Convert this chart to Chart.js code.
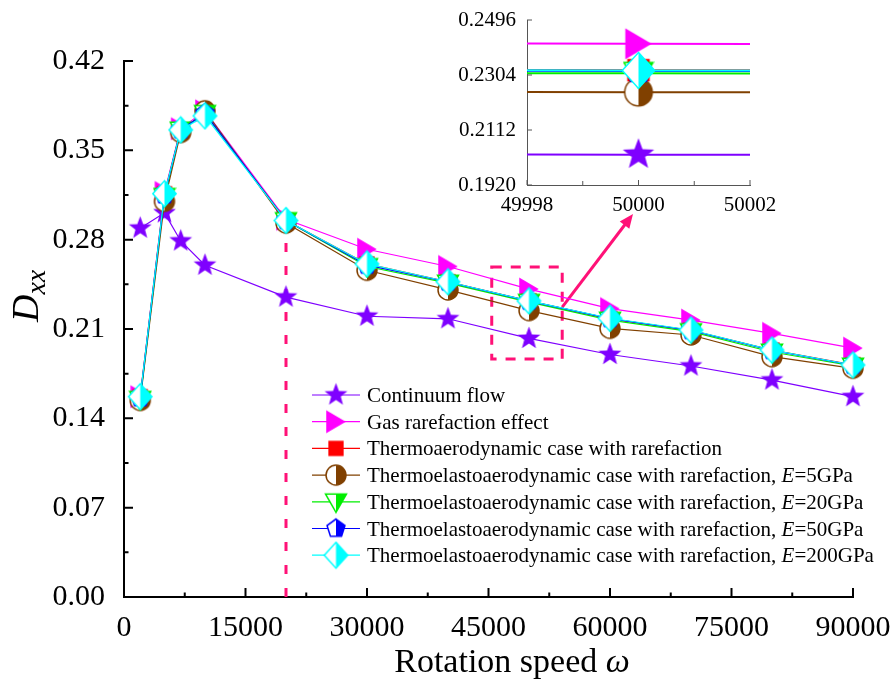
<!DOCTYPE html>
<html>
<head>
<meta charset="utf-8">
<script src="https://cdn.jsdelivr.net/npm/chart.js@4.4.1/dist/chart.umd.min.js"></script>
<style>
  body { margin: 0; background: #fff; }
  #wrap { position: relative; width: 890px; height: 682px; }
  #main { position: absolute; left: 0; top: 0; }
  #inset { position: absolute; left: 400px; top: 0; }
</style>
</head>
<body>
<div id="wrap">
  <canvas id="main" width="890" height="682"></canvas>
  <canvas id="inset" width="380" height="215"></canvas>
</div>
<script>
// rotation speeds (x) and Dxx for each case
var speed = [2000, 5000, 7000, 10000, 20000, 30000, 40000, 50000, 60000, 70000, 80000, 90000];
var continuum = [0.289, 0.301, 0.279, 0.260, 0.235, 0.220, 0.218, 0.2026, 0.190, 0.181, 0.170, 0.157];
var gasRare   = [0.157, 0.317, 0.367, 0.381, 0.296, 0.2725, 0.259, 0.2413, 0.226, 0.217, 0.2066, 0.195];
var thermo    = [0.157, 0.316, 0.366, 0.379, 0.295, 0.261, 0.247, 0.2321, 0.218, 0.209, 0.1935, 0.182];
var e5        = [0.154, 0.310, 0.364, 0.381, 0.293, 0.256, 0.2406, 0.2244, 0.2105, 0.2053, 0.1883, 0.1792];
var e20       = [0.155, 0.314, 0.366, 0.379, 0.295, 0.259, 0.246, 0.2310, 0.217, 0.208, 0.192, 0.181];
var e50       = [0.156, 0.315, 0.366, 0.379, 0.295, 0.260, 0.2468, 0.2318, 0.2182, 0.2088, 0.1932, 0.1816];
var e200      = [0.157, 0.316, 0.366, 0.377, 0.295, 0.261, 0.247, 0.2320, 0.2184, 0.2092, 0.1935, 0.1818];

var yTicks = [0, 0.07, 0.14, 0.21, 0.28, 0.35, 0.42];
var xTicks = [0, 15000, 30000, 45000, 60000, 75000, 90000];
var zoomX = [49998, 50000, 50002];
var zoomY = [0.1920, 0.2112, 0.2304, 0.2496];

var SERIF = "'Liberation Serif', 'Times New Roman', serif";
var PINK = '#ff1177';

var series = [
  { label: [{ t: 'Continuum flow' }], data: continuum, color: '#7f00ff', shape: 'star', half: false, size: 27, big: 36 },
  { label: [{ t: 'Gas rarefaction effect' }], data: gasRare, color: '#ff00ff', shape: 'triRight', half: false, size: 26, big: 34 },
  { label: [{ t: 'Thermoaerodynamic case with rarefaction' }], data: thermo, color: '#ff0000', shape: 'square', half: false, size: 20, big: 28 },
  { label: [{ t: 'Thermoelastoaerodynamic case with rarefaction, ' }, { t: 'E', it: true }, { t: '=5GPa' }], data: e5, color: '#804000', shape: 'circle', half: true, size: 24, big: 32 },
  { label: [{ t: 'Thermoelastoaerodynamic case with rarefaction, ' }, { t: 'E', it: true }, { t: '=20GPa' }], data: e20, color: '#00ee00', shape: 'triDown', half: true, size: 24, big: 32 },
  { label: [{ t: 'Thermoelastoaerodynamic case with rarefaction, ' }, { t: 'E', it: true }, { t: '=50GPa' }], data: e50, color: '#0000ff', shape: 'pentagon', half: true, size: 24, big: 32 },
  { label: [{ t: 'Thermoelastoaerodynamic case with rarefaction, ' }, { t: 'E', it: true }, { t: '=200GPa' }], data: e200, color: '#00ffff', shape: 'diamond', half: true, size: 29, big: 39 }
];

function shapePath(g, kind, m, R) {
  var i, a, r;
  g.beginPath();
  if (kind === 'star') {
    for (i = 0; i < 10; i++) {
      r = i % 2 ? R * 0.42 : R;
      a = -Math.PI / 2 + i * Math.PI / 5;
      g.lineTo(m + r * Math.cos(a), m + r * Math.sin(a));
    }
  } else if (kind === 'triRight') {
    g.moveTo(m + R * 0.85, m);
    g.lineTo(m - R * 0.85, m - R);
    g.lineTo(m - R * 0.85, m + R);
  } else if (kind === 'square') {
    g.rect(m - R * 0.9, m - R * 0.9, R * 1.8, R * 1.8);
  } else if (kind === 'circle') {
    g.arc(m, m, R * 0.95, 0, Math.PI * 2);
  } else if (kind === 'triDown') {
    g.moveTo(m - R, m - R * 0.75);
    g.lineTo(m + R, m - R * 0.75);
    g.lineTo(m, m + R);
  } else if (kind === 'pentagon') {
    for (i = 0; i < 5; i++) {
      a = -Math.PI / 2 + i * 2 * Math.PI / 5;
      g.lineTo(m + R * 0.9 * Math.cos(a), m + R * 0.9 * Math.sin(a));
    }
  } else if (kind === 'diamond') {
    g.moveTo(m, m - R);
    g.lineTo(m + R * 0.9, m);
    g.lineTo(m, m + R);
    g.lineTo(m - R * 0.9, m);
  }
  g.closePath();
}

// marker image: solid, or left half white / right half coloured
function makeMarker(s, size) {
  var c = document.createElement('canvas');
  c.width = size;
  c.height = size;
  var g = c.getContext('2d');
  var m = size / 2, R = size / 2 - 1.5;
  if (s.half) {
    shapePath(g, s.shape, m, R);
    g.fillStyle = '#fff';
    g.fill();
    g.save();
    g.beginPath();
    g.rect(m, 0, m, size);
    g.clip();
    shapePath(g, s.shape, m, R);
    g.fillStyle = s.color;
    g.fill();
    g.restore();
    shapePath(g, s.shape, m, R);
    g.lineWidth = 1.5;
    g.strokeStyle = s.color;
    g.stroke();
  } else {
    shapePath(g, s.shape, m, R);
    g.fillStyle = s.color;
    g.fill();
  }
  return c;
}

series.forEach(function (s) {
  s.marker = makeMarker(s, s.size);
  s.bigMarker = makeMarker(s, s.big);
});

function points(values) {
  return speed.map(function (x, i) { return { x: x, y: values[i] }; });
}

function fontOf(p, size) {
  return (p.it ? 'italic ' : '') + (p.size || size) + 'px ' + SERIF;
}

function drawRich(ctx, parts, x, y, size, align) {
  var w = 0;
  parts.forEach(function (p) { ctx.font = fontOf(p, size); w += ctx.measureText(p.t).width; });
  var cx = align === 'center' ? x - w / 2 : x;
  ctx.textAlign = 'left';
  ctx.textBaseline = 'alphabetic';
  parts.forEach(function (p) {
    ctx.font = fontOf(p, size);
    ctx.fillText(p.t, cx, y + (p.dy || 0));
    cx += ctx.measureText(p.t).width;
  });
}

// short tick marks pointing into the plot
var innerTicks = {
  id: 'innerTicks',
  afterDraw: function (chart, args, o) {
    var ctx = chart.ctx, a = chart.chartArea;
    var xs = chart.scales.x, ys = chart.scales.y;
    var i, p;
    ctx.save();
    ctx.strokeStyle = o.color;
    ctx.lineWidth = o.width;
    ctx.beginPath();
    var xv = xs.ticks.map(function (t) { return t.value; });
    var yv = ys.ticks.map(function (t) { return t.value; });
    for (i = 0; i < xv.length; i++) {
      p = xs.getPixelForValue(xv[i]);
      ctx.moveTo(p, a.bottom); ctx.lineTo(p, a.bottom - o.major);
      if (i < xv.length - 1) {
        p = xs.getPixelForValue((xv[i] + xv[i + 1]) / 2);
        ctx.moveTo(p, a.bottom); ctx.lineTo(p, a.bottom - o.minor);
      }
    }
    for (i = 0; i < yv.length; i++) {
      p = ys.getPixelForValue(yv[i]);
      ctx.moveTo(a.left, p); ctx.lineTo(a.left + o.major, p);
      if (o.yMinor && i < yv.length - 1) {
        p = ys.getPixelForValue((yv[i] + yv[i + 1]) / 2);
        ctx.moveTo(a.left, p); ctx.lineTo(a.left + o.minor, p);
      }
    }
    ctx.stroke();
    ctx.restore();
  }
};

// dashed guide at 20000, dashed box round 50000 and arrow to the zoom panel
var guides = {
  id: 'guides',
  beforeDatasetsDraw: function (chart) {
    var ctx = chart.ctx, xs = chart.scales.x, ys = chart.scales.y;
    ctx.save();
    ctx.strokeStyle = PINK;
    ctx.lineWidth = 3;
    ctx.setLineDash([9, 14]);
    ctx.beginPath();
    ctx.moveTo(xs.getPixelForValue(20000), ys.getPixelForValue(0));
    ctx.lineTo(xs.getPixelForValue(20000), ys.getPixelForValue(0.29));
    ctx.stroke();

    ctx.setLineDash([10, 9]);
    var x0 = xs.getPixelForValue(45400), x1 = xs.getPixelForValue(54100);
    var y0 = ys.getPixelForValue(0.2585), y1 = ys.getPixelForValue(0.1865);
    ctx.strokeRect(x0, y0, x1 - x0, y1 - y0);

    ctx.setLineDash([]);
    var ax = x1, ay = ys.getPixelForValue(0.2272);
    var bx = xs.getPixelForValue(62840), by = ys.getPixelForValue(0.3001);
    var ang = Math.atan2(by - ay, bx - ax);
    ctx.beginPath();
    ctx.moveTo(ax, ay);
    ctx.lineTo(bx - 10 * Math.cos(ang), by - 10 * Math.sin(ang));
    ctx.stroke();
    ctx.fillStyle = PINK;
    ctx.beginPath();
    ctx.moveTo(bx, by);
    ctx.lineTo(bx - 14 * Math.cos(ang) + 6 * Math.sin(ang), by - 14 * Math.sin(ang) - 6 * Math.cos(ang));
    ctx.lineTo(bx - 14 * Math.cos(ang) - 6 * Math.sin(ang), by - 14 * Math.sin(ang) + 6 * Math.cos(ang));
    ctx.closePath();
    ctx.fill();
    ctx.restore();
  }
};

var legendBox = {
  id: 'legendBox',
  afterDraw: function (chart) {
    var ctx = chart.ctx;
    ctx.save();
    series.forEach(function (s, i) {
      var y = 395 + i * 26.7;
      ctx.strokeStyle = s.color;
      ctx.lineWidth = 1.2;
      ctx.beginPath();
      ctx.moveTo(312, y);
      ctx.lineTo(360, y);
      ctx.stroke();
      ctx.drawImage(s.marker, 336 - s.marker.width / 2, y - s.marker.height / 2);
      ctx.fillStyle = '#000';
      drawRich(ctx, s.label, 367, y + 7, 21, 'left');
    });
    ctx.restore();
  }
};

var axisTitles = {
  id: 'axisTitles',
  afterDraw: function (chart) {
    var ctx = chart.ctx;
    ctx.save();
    ctx.fillStyle = '#000';
    drawRich(ctx, [{ t: 'Rotation speed ' }, { t: '\u03c9', it: true }], 512, 672, 34, 'center');
    ctx.translate(38, 322);
    ctx.rotate(-Math.PI / 2);
    drawRich(ctx, [{ t: 'D', it: true }, { t: 'xx', it: true, size: 28, dy: 7 }], 0, 0, 38, 'left');
    ctx.restore();
  }
};

var mainSets = series.map(function (s, i) {
  return {
    label: s.label.map(function (p) { return p.t; }).join(''),
    data: points(s.data),
    borderColor: s.color,
    backgroundColor: s.color,
    borderWidth: 1.2,
    pointStyle: s.marker,
    pointRadius: 10,
    clip: false,
    order: series.length - 1 - i
  };
});

new Chart(document.getElementById('main'), {
  type: 'line',
  data: { datasets: mainSets },
  options: {
    responsive: false,
    animation: false,
    layout: { padding: { left: 0, top: 61, right: 37, bottom: 0 } },
    plugins: {
      legend: { display: false },
      tooltip: { enabled: false },
      innerTicks: { color: '#000', width: 2, major: 9, minor: 4.5, yMinor: true }
    },
    scales: {
      x: {
        type: 'linear',
        min: 0,
        max: 90000,
        afterBuildTicks: function (scale) { scale.ticks = xTicks.map(function (v) { return { value: v }; }); },
        afterFit: function (scale) { scale.height = 85; scale.paddingLeft = 0; scale.paddingRight = 0; },
        grid: { display: false },
        border: { display: true, color: '#000', width: 2 },
        ticks: {
          color: '#000',
          padding: 5,
          maxRotation: 0,
          font: { family: SERIF, size: 30 },
          callback: function (v) { return String(v); }
        }
      },
      y: {
        min: 0,
        max: 0.42,
        afterBuildTicks: function (scale) { scale.ticks = yTicks.map(function (v) { return { value: v }; }); },
        afterFit: function (scale) { scale.width = 124; scale.paddingTop = 0; scale.paddingBottom = 0; },
        grid: { display: false },
        border: { display: true, color: '#000', width: 2 },
        ticks: {
          color: '#000',
          padding: 11,
          font: { family: SERIF, size: 30 },
          callback: function (v) { return v.toFixed(2); }
        }
      }
    }
  },
  plugins: [guides, innerTicks, legendBox, axisTitles]
});

// zoom panel around 50000
var insetSets = series.map(function (s, i) {
  return {
    data: points(s.data),
    borderColor: s.color,
    backgroundColor: s.color,
    borderWidth: 2,
    pointStyle: s.bigMarker,
    pointRadius: 14,
    order: series.length - 1 - i
  };
});

new Chart(document.getElementById('inset'), {
  type: 'line',
  data: { datasets: insetSets },
  options: {
    responsive: false,
    animation: false,
    layout: { padding: { left: 0, top: 20, right: 30, bottom: 0 } },
    plugins: {
      legend: { display: false },
      tooltip: { enabled: false },
      innerTicks: { color: '#555', width: 1, major: 5, minor: 4, yMinor: false }
    },
    scales: {
      x: {
        type: 'linear',
        min: zoomX[0],
        max: zoomX[zoomX.length - 1],
        afterBuildTicks: function (scale) { scale.ticks = zoomX.map(function (v) { return { value: v }; }); },
        afterFit: function (scale) { scale.height = 30; scale.paddingLeft = 0; scale.paddingRight = 0; },
        grid: { display: false },
        border: { display: true, color: '#555', width: 1 },
        ticks: {
          color: '#000',
          padding: 0,
          maxRotation: 0,
          font: { family: SERIF, size: 21 },
          callback: function (v) { return String(v); }
        }
      },
      y: {
        min: zoomY[0],
        max: zoomY[zoomY.length - 1],
        afterBuildTicks: function (scale) { scale.ticks = zoomY.map(function (v) { return { value: v }; }); },
        afterFit: function (scale) { scale.width = 127; scale.paddingTop = 0; scale.paddingBottom = 0; },
        grid: { display: false },
        border: { display: true, color: '#555', width: 1 },
        ticks: {
          color: '#000',
          padding: 3,
          font: { family: SERIF, size: 21 },
          callback: function (v) { return v.toFixed(4); }
        }
      }
    }
  },
  plugins: [innerTicks]
});
</script>
</body>
</html>
